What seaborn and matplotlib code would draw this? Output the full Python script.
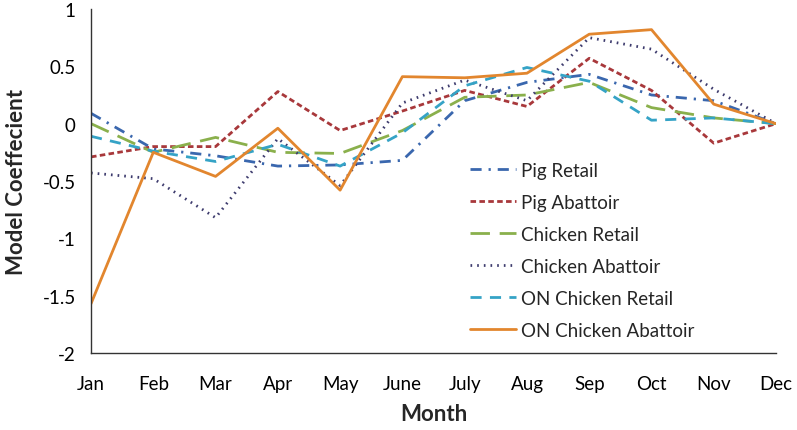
import pandas as pd
import numpy as np
import matplotlib.pyplot as plt
import seaborn as sns
from matplotlib.ticker import FuncFormatter

months = ["Jan", "Feb", "Mar", "Apr", "May", "June", "July", "Aug", "Sep", "Oct", "Nov", "Dec"]

pig_retail = [0.09, -0.22, -0.28, -0.37, -0.36, -0.32, 0.20, 0.36, 0.43, 0.25, 0.20, 0.0]
pig_abattoir = [-0.29, -0.20, -0.20, 0.28, -0.06, 0.11, 0.29, 0.15, 0.57, 0.29, -0.17, 0.0]
chicken_retail = [0.0, -0.25, -0.12, -0.25, -0.26, -0.06, 0.23, 0.25, 0.36, 0.14, 0.05, 0.0]
chicken_abattoir = [-0.43, -0.48, -0.82, -0.13, -0.54, 0.18, 0.38, 0.20, 0.75, 0.65, 0.30, 0.0]
on_chicken_retail = [-0.11, -0.24, -0.33, -0.18, -0.37, -0.08, 0.33, 0.49, 0.37, 0.03, 0.05, 0.0]
on_chicken_abattoir = [-1.57, -0.25, -0.46, -0.04, -0.58, 0.41, 0.40, 0.44, 0.78, 0.82, 0.17, 0.0]

series_names = ["Pig Retail", "Pig Abattoir", "Chicken Retail", "Chicken Abattoir",
                "ON Chicken Retail", "ON Chicken Abattoir"]
series_values = [pig_retail, pig_abattoir, chicken_retail, chicken_abattoir,
                 on_chicken_retail, on_chicken_abattoir]

colors = ["#3A67AE", "#A8383B", "#8AB04C", "#3E3C6E", "#35A3C6", "#E2862E"]
dash_styles = [(4, 2.5, 0.8, 2.5), (2, 1.2), (7, 3.5), (0.6, 1.8), (4, 3), ""]

rows = []
for name, vals in zip(series_names, series_values):
    for i, v in enumerate(vals):
        rows.append({"month": i, "value": v, "series": name})
df = pd.DataFrame(rows)

sns.set_style("white")
plt.rcParams["font.family"] = ["Lato", "DejaVu Sans"]

fig = plt.figure(figsize=(7.97, 4.31), dpi=100)
ax = fig.add_axes([0.1142, 0.1787, 0.8595, 0.7981])

sns.lineplot(data=df, x="month", y="value", hue="series", style="series",
             hue_order=series_names, style_order=series_names,
             palette=dict(zip(series_names, colors)),
             dashes=dict(zip(series_names, dash_styles)),
             linewidth=2.0, ax=ax)

ax.set_xlim(0, 11)
ax.set_ylim(-2, 1)
ax.set_xticks(range(12))
ax.set_xticklabels(months)
ax.set_yticks(np.arange(-2, 1.01, 0.5))
ax.yaxis.set_major_formatter(FuncFormatter(lambda v, p: f"{v:g}".replace("\u2212", "-")))

ax.tick_params(axis="both", labelsize=13.5, colors="black", length=5, width=1,
               direction="out", pad=6)
ax.tick_params(axis="x", pad=11)
for s in ["top", "right"]:
    ax.spines[s].set_visible(False)
for s in ["left", "bottom"]:
    ax.spines[s].set_color("#333333")
    ax.spines[s].set_linewidth(1)

ax.set_xlabel("Month", fontsize=16, fontweight="bold", labelpad=8)
ax.set_ylabel("Model Coeffecient", fontsize=16, fontweight="bold", labelpad=11)

leg = ax.legend(loc="upper left", bbox_to_anchor=(0.528, 0.605), frameon=False,
                fontsize=13.5, handlelength=2.5, handletextpad=0.25, labelspacing=0.8)

fig.savefig("out.png", dpi=100)
